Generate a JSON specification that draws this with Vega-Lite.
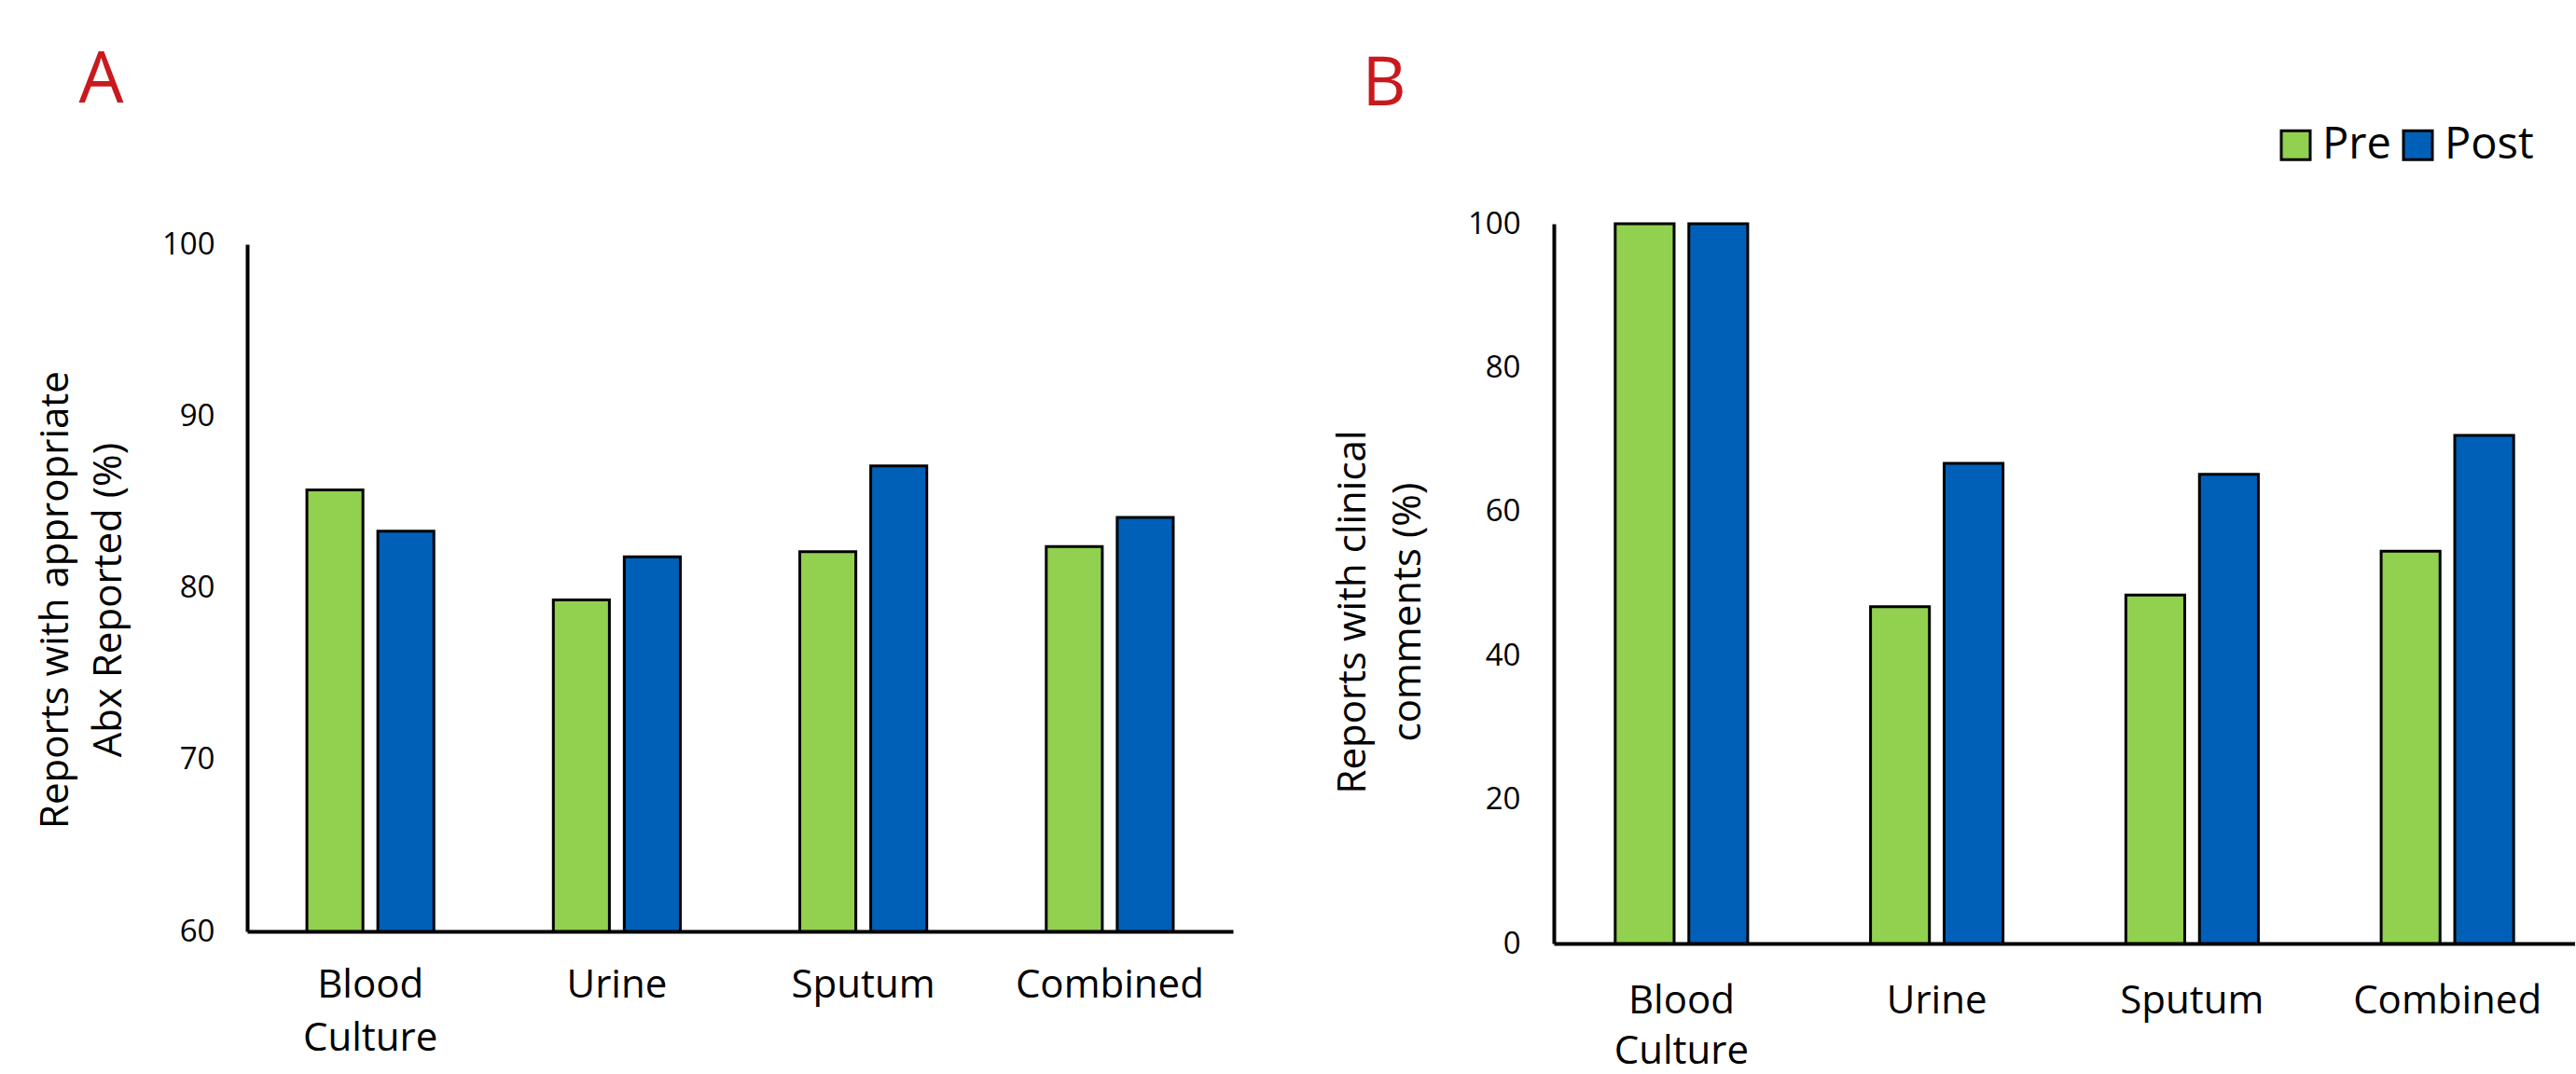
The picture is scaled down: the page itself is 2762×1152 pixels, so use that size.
{
  "$schema": "https://vega.github.io/schema/vega-lite/v6.json",
  "background": "white",
  "padding": {"left": 38, "top": 49, "right": 0, "bottom": 0},
  "spacing": 107,
  "data": {"values": [
    {"panel": "A", "specimen": "Blood Culture", "period": "Pre", "value": 85.7},
    {"panel": "A", "specimen": "Blood Culture", "period": "Post", "value": 83.3},
    {"panel": "A", "specimen": "Urine", "period": "Pre", "value": 79.3},
    {"panel": "A", "specimen": "Urine", "period": "Post", "value": 81.8},
    {"panel": "A", "specimen": "Sputum", "period": "Pre", "value": 82.1},
    {"panel": "A", "specimen": "Sputum", "period": "Post", "value": 87.1},
    {"panel": "A", "specimen": "Combined", "period": "Pre", "value": 82.4},
    {"panel": "A", "specimen": "Combined", "period": "Post", "value": 84.1},
    {"panel": "B", "specimen": "Blood Culture", "period": "Pre", "value": 100},
    {"panel": "B", "specimen": "Blood Culture", "period": "Post", "value": 100},
    {"panel": "B", "specimen": "Urine", "period": "Pre", "value": 46.8},
    {"panel": "B", "specimen": "Urine", "period": "Post", "value": 66.7},
    {"panel": "B", "specimen": "Sputum", "period": "Pre", "value": 48.4},
    {"panel": "B", "specimen": "Sputum", "period": "Post", "value": 65.2},
    {"panel": "B", "specimen": "Combined", "period": "Pre", "value": 54.5},
    {"panel": "B", "specimen": "Combined", "period": "Post", "value": 70.6}
  ]},
  "config": {
    "font": "Open Sans",
    "view": {"stroke": null},
    "axis": {
      "labelFont": "Open Sans", "titleFont": "Open Sans",
      "labelColor": "black", "titleColor": "black",
      "domainColor": "black", "domainWidth": 4,
      "ticks": false, "grid": false, "titleFontWeight": "normal", "labelLimit": 500
    },
    "title": {"font": "Open Sans", "fontWeight": "normal", "color": "#c81a1e", "anchor": "start", "frame": "bounds"}
  },
  "resolve": {
    "scale": {"x": "independent", "y": "independent", "xOffset": "independent", "color": "independent"},
    "legend": {"color": "independent"}
  },
  "hconcat": [
    {
      "title": {"text": "A", "fontSize": 76, "offset": 114, "dx": 46},
      "width": 1057,
      "height": 759,
      "transform": [{"filter": "datum.panel === 'A'"}],
      "mark": {"type": "bar", "stroke": "black", "strokeWidth": 3},
      "encoding": {
        "x": {
          "field": "specimen", "type": "nominal",
          "sort": ["Blood Culture", "Urine", "Sputum", "Combined"],
          "scale": {"paddingInner": 0, "paddingOuter": 0},
          "axis": {"title": null, "labelAngle": 0, "labelFontSize": 42, "labelPadding": 37, "labelLineHeight": 57, "labelExpr": "split(datum.label, ' ')", "labelBaseline": "top"}
        },
        "xOffset": {
          "field": "period", "type": "nominal", "sort": ["Pre", "Post"],
          "scale": {"paddingInner": 0.21, "paddingOuter": 0.842}
        },
        "y": {
          "field": "value", "type": "quantitative",
          "scale": {"domain": [60, 100], "range": [759, 22], "zero": false, "nice": false, "clamp": true},
          "axis": {
            "values": [60, 70, 80, 90, 100], "labelFontSize": 33, "labelPadding": 35, "labelFlush": false,
            "title": ["Reports with appropriate", "Abx Reported (%)"],
            "titleFontSize": 42, "titleLineHeight": 57, "titlePadding": 35, "titleY": 403
          }
        },
        "color": {
          "field": "period", "type": "nominal",
          "scale": {"domain": ["Pre", "Post"], "range": ["#92D050", "#0060B8"]},
          "legend": null
        }
      }
    },
    {
      "title": {"text": "B", "fontSize": 73, "offset": 4, "dx": 31},
      "width": 1095,
      "height": 772,
      "transform": [{"filter": "datum.panel === 'B'"}],
      "mark": {"type": "bar", "stroke": "black", "strokeWidth": 3},
      "encoding": {
        "x": {
          "field": "specimen", "type": "nominal",
          "sort": ["Blood Culture", "Urine", "Sputum", "Combined"],
          "scale": {"paddingInner": 0, "paddingOuter": 0},
          "axis": {"title": null, "labelAngle": 0, "labelFontSize": 42, "labelPadding": 41, "labelLineHeight": 54, "labelExpr": "split(datum.label, ' ')", "labelBaseline": "top"}
        },
        "xOffset": {
          "field": "period", "type": "nominal", "sort": ["Pre", "Post"],
          "scale": {"paddingInner": 0.2, "paddingOuter": 0.834}
        },
        "y": {
          "field": "value", "type": "quantitative",
          "scale": {"domain": [0, 100], "nice": false},
          "axis": {
            "values": [0, 20, 40, 60, 80, 100], "labelFontSize": 33, "labelPadding": 36, "labelFlush": false,
            "title": ["Reports with clinical", "comments (%)"],
            "titleFontSize": 42, "titleLineHeight": 59, "titlePadding": 42, "titleY": 416
          }
        },
        "color": {
          "field": "period", "type": "nominal",
          "scale": {"domain": ["Pre", "Post"], "range": ["#92D050", "#0060B8"]},
          "legend": {
            "orient": "none", "legendX": 772, "legendY": -108,
            "direction": "horizontal", "title": null,
            "symbolType": "square", "symbolSize": 961,
            "symbolStrokeColor": "black", "symbolStrokeWidth": 3, "symbolOpacity": 1,
            "labelFontSize": 47, "labelFont": "Open Sans", "labelColor": "black",
            "labelOffset": 5, "columnPadding": 5, "padding": 0
          }
        }
      }
    }
  ]
}
